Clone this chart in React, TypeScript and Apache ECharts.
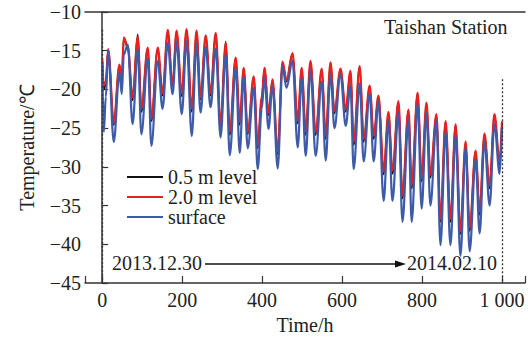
import React, { useEffect, useRef } from "react";
import * as echarts from "echarts";

const hours = [0,4,9,15,29,43,49,54,64,76,89,98,114,123,139,151,164,176,186,199,211,224,236,246,259,271,284,296,309,319,334,344,354,364,379,389,399,406,416,426,439,451,461,476,489,499,509,521,534,549,559,571,581,596,609,621,629,644,654,669,679,691,704,716,726,741,751,766,774,789,799,811,821,836,846,859,871,884,896,909,919,934,944,956,969,981,994,1000];

const level05 = [-16.2,-20.0,-19.3,-14.9,-24.6, -16.9,-18.8,-13.4,-14.6,-21.4, -12.9,-22.9,-14.7,-24.1,-14.8, -20.8,-12.5,-19.8,-12.5,-20.9, -12.3,-22.9,-12.5,-21.3,-13.1, -20.8,-12.8,-24.9,-13.8,-25.9, -16.0,-24.6,-17.3,-25.8,-18.4, -27.6,-21.2,-17.3,-23.3,-18.8, -28.4,-16.5,-19.0,-15.4,-24.4, -17.3,-25.9,-16.4,-25.9,-17.4, -26.4,-16.6,-23.1,-17.4,-22.9, -17.7,-27.2,-17.1,-26.8,-19.6, -26.4,-20.9,-31.0,-23.0,-30.9, -21.6,-34.1,-22.7,-32.8,-20.5, -31.9,-21.8,-31.4,-23.3,-37.1, -24.2,-37.1,-24.6,-38.7,-26.8, -38.3,-28.0,-36.2,-25.8,-32.8, -23.3,-29.8,-24.2];

const level20 = [-16.0,-19.5,-19.0,-14.8,-24.3, -16.8,-18.5,-13.3,-14.5,-21.0, -13.2,-22.5,-14.6,-23.8,-14.6, -20.5,-12.3,-19.5,-12.4,-20.5, -12.2,-22.5,-12.4,-21.0,-13.0, -20.5,-12.7,-24.5,-14.0,-25.5, -15.9,-24.2,-17.2,-25.5,-18.3, -27.3,-21.0,-17.2,-23.0,-18.7, -28.0,-16.4,-18.8,-15.3,-24.0, -17.2,-25.5,-16.3,-25.5,-17.3, -26.0,-16.5,-22.8,-17.3,-22.6, -17.6,-26.8,-17.0,-26.4,-19.5, -26.0,-20.8,-30.6,-22.9,-30.5, -21.5,-33.7,-22.6,-32.4,-20.4, -31.5,-21.7,-31.0,-23.2,-36.7, -24.1,-36.7,-24.5,-38.3,-26.7, -37.9,-27.9,-35.8,-25.7,-32.4, -23.2,-29.4,-24.1];

const surface = [-16.5,-25.5,-21.0,-15.0,-26.8, -17.8,-20.6,-15.5,-14.2,-24.5, -14.8,-25.8,-16.0,-27.3,-16.3, -22.5,-14.0,-20.6,-13.8,-23.2, -13.7,-26.0,-14.0,-23.0,-14.5, -22.3,-14.7,-26.2,-15.5,-28.5, -17.2,-28.2,-18.3,-27.6,-19.8, -30.3,-22.5,-18.5,-25.1,-19.5, -30.2,-17.0,-19.8,-16.3,-27.5, -18.5,-28.6,-17.5,-28.6,-19.0, -29.2,-18.0,-25.0,-18.0,-24.7, -19.5,-30.3,-19.2,-29.3,-20.6, -29.3,-21.5,-34.4,-24.0,-34.4, -23.0,-37.1,-24.0,-37.1,-21.9, -35.4,-23.0,-35.0,-24.0,-40.1, -25.5,-40.1,-26.0,-41.5,-27.5, -40.9,-29.0,-38.6,-26.7,-35.0, -24.5,-30.9,-25.0];

const seriesNames = ["0.5 m level", "2.0 m level", "surface"];
const seriesColors = ["#111111", "#e8211e", "#3d5ba9"];
const seriesWidths = [1.8, 2.2, 2.2];
const xTickLabels: Record<number, string> = { 0: "0", 200: "200", 400: "400", 600: "600", 800: "800", 1000: "1 000" };
const startDate = "2013.12.30";
const endDate = "2014.02.10";
const stationName = "Taishan Station";

const FONT = "Liberation Serif";

export default function App() {
  const ref = useRef<HTMLDivElement>(null);
  useEffect(() => {
    if (!ref.current) return;
    document.body.style.margin = "0";
    const chart = echarts.init(ref.current, null, { renderer: "svg" });
    const seriesData = [level05, level20, surface].map((vals) => hours.map((h, i) => [h, vals[i]]));
    const option: any = {
      animation: false,
      textStyle: { fontFamily: FONT },
      grid: { left: 85, right: 0, top: 12, bottom: 55 },
      legend: {
        orient: "vertical",
        left: 127,
        top: 167,
        padding: 0,
        itemWidth: 36,
        itemHeight: 2,
        itemGap: 0,
        icon: "rect",
        data: seriesNames,
        textStyle: { fontSize: 20, fontFamily: FONT, color: "#222", lineHeight: 18 },
      },
      xAxis: [
        {
          type: "value",
          min: -43,
          max: 1057.5,
          splitNumber: 5,
          axisLine: { show: true, lineStyle: { color: "#333", width: 1.5 } },
          axisTick: { show: true, inside: true, length: 7, lineStyle: { color: "#333", width: 1.2 } },
          axisLabel: {
            show: true,
            margin: 7,
            color: "#222",
            fontSize: 20,
            fontFamily: FONT,
            formatter: (v: number) => (xTickLabels[v] !== undefined ? xTickLabels[v] : ""),
          },
          splitLine: { show: false },
          name: "Time/h",
          nameLocation: "middle",
          nameGap: 32,
          nameTextStyle: { fontSize: 20, fontFamily: FONT, color: "#222" },
        },
        {
          type: "value",
          position: "top",
          min: -43,
          max: 1057.5,
          axisLine: { show: true, lineStyle: { color: "#333", width: 1.5 } },
          axisTick: { show: false },
          axisLabel: { show: false },
          splitLine: { show: false },
        },
      ],
      yAxis: {
        type: "value",
        min: -45,
        max: -10,
        interval: 5,
        axisLine: { show: true, lineStyle: { color: "#333", width: 1.5 } },
        axisTick: { show: true, inside: true, length: 6, lineStyle: { color: "#333", width: 1.2 } },
        axisLabel: {
          margin: 4,
          color: "#222",
          fontSize: 20,
          fontFamily: FONT,
          formatter: (v: number) => String(v).replace("-", "\u2212"),
        },
        splitLine: { show: false },
        name: "Temperature/\u2103",
        nameLocation: "middle",
        nameGap: 48,
        nameRotate: 90,
        nameTextStyle: { fontSize: 20, fontFamily: FONT, color: "#222" },
      },
      series: seriesNames.map((name, i) => ({
        name,
        type: "line",
        data: seriesData[i],
        showSymbol: false,
        smooth: 0.35,
        smoothMonotone: "x",
        lineStyle: { color: seriesColors[i], width: seriesWidths[i] },
        itemStyle: { color: seriesColors[i] },
        z: 2 + i,
        markLine:
          i === 0
            ? {
                silent: true,
                symbol: "none",
                label: { show: false },
                lineStyle: { color: "#333", type: [2, 2], width: 1.3 },
                data: [
                  [{ coord: [0, -12.3] }, { coord: [0, -45] }],
                  [{ coord: [1000, -18.7] }, { coord: [1000, -45] }],
                ],
              }
            : undefined,
      })),
      graphic: [
        {
          type: "text",
          left: 384,
          top: 17,
          style: { text: stationName, fontSize: 20, fontFamily: FONT, fill: "#222" },
        },
        {
          type: "text",
          left: 112,
          top: 253,
          style: { text: startDate, fontSize: 20, fontFamily: FONT, fill: "#222" },
        },
        {
          type: "line",
          shape: { x1: 205, y1: 264, x2: 398, y2: 264 },
          style: { stroke: "#111", lineWidth: 1.3 },
        },
        {
          type: "polygon",
          shape: { points: [[395, 260.5], [406, 264], [395, 267.5]] },
          style: { fill: "#111" },
        },
        {
          type: "text",
          left: 407,
          top: 253,
          style: { text: endDate, fontSize: 20, fontFamily: FONT, fill: "#222" },
        },
      ],
    };
    chart.setOption(option);
    return () => chart.dispose();
  }, []);
  return <div ref={ref} style={{ position: "absolute", left: 0, top: 0, width: 528, height: 340 }} />;
}
